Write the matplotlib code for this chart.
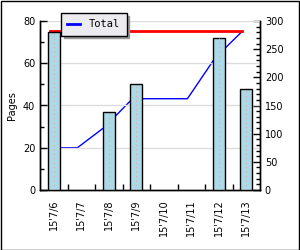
import matplotlib
matplotlib.use("Agg")
import matplotlib.pyplot as plt
from matplotlib.patches import Rectangle
from matplotlib.ticker import MultipleLocator, FixedLocator

# data
dates = ["15'7/6", "15'7/7", "15'7/8", "15'7/9", "15'7/10", "15'7/11", "15'7/12", "15'7/13"]
pages = [75, 0, 37, 50, 0, 0, 72, 48]
totals = [75, 75, 112, 162, 162, 162, 234, 282]
target = [282] * len(dates)

x = list(range(len(dates)))
xl = [i - 0.14 for i in x]   # line points sit a bit left of the bar centres

fig = plt.figure(figsize=(3, 2.5), dpi=100)
fig.patch.set_facecolor("white")
ax = fig.add_axes([40 / 300, 60 / 250, 220 / 300, 169 / 250])
ax2 = ax.twinx()

# bars on the left axis, drawn above the lines
ax.set_zorder(ax2.get_zorder() + 1)
ax.patch.set_visible(False)
edges = ["black" if v > 0 else "none" for v in pages]
ax.bar(x, pages, width=0.42, color="#add8e6", edgecolor=edges, linewidth=1, zorder=3)
ax.vlines(x, 0, pages, colors="#e8a8a8", linestyles=(0, (1, 3)), linewidth=0.8, zorder=4)

ax2.plot(xl, totals, color="blue", linewidth=1, label="Total")
ax2.plot(xl, target, color="red", linewidth=2)

ax.set_xlim(-0.5, 7.5)
ax.set_ylim(0, 80)
ax2.set_ylim(0, 300)

ax.yaxis.set_major_locator(MultipleLocator(20))
ax.yaxis.set_minor_locator(MultipleLocator(10))
ax2.yaxis.set_major_locator(MultipleLocator(50))
ax2.yaxis.set_minor_locator(MultipleLocator(10))
ax.grid(axis="y", color="#dddddd", linewidth=1, zorder=0)
ax.set_axisbelow(True)

ax.set_xticks(x)
ax.set_xticklabels(dates, rotation=90, fontsize=7)
ax.xaxis.set_minor_locator(FixedLocator([i + 0.5 for i in x[:-1]]))
ax.tick_params(axis="x", which="major", length=0, pad=7)
ax.tick_params(axis="x", which="minor", direction="in", length=4, width=1)
ax.tick_params(axis="y", which="major", direction="in", length=5, width=1, labelsize=7)
ax.tick_params(axis="y", which="minor", direction="in", length=3, width=1)
ax2.tick_params(axis="y", which="major", direction="in", length=5, width=1, labelsize=7)
ax2.tick_params(axis="y", which="minor", direction="in", length=3, width=1)

for a in (ax, ax2):
    a.spines["top"].set_visible(False)
    for s in ("left", "right", "bottom"):
        a.spines[s].set_linewidth(1)

ax.set_ylabel("Pages", fontsize=7, labelpad=4)

leg = fig.legend(loc="upper left", bbox_to_anchor=(61 / 300, 1 - 13 / 250),
                 prop={"family": "DejaVu Sans Mono", "size": 7.5},
                 fancybox=False, framealpha=1, edgecolor="black", facecolor="#ecebf0",
                 shadow={"color": "#999999", "alpha": 1}, handlelength=1.2,
                 handletextpad=0.9, borderpad=0.6, borderaxespad=0)
leg.get_frame().set_linewidth(1)
leg.legend_handles[0].set_linewidth(2)

fig.patches.append(Rectangle((0.002, 0.002), 0.994, 0.994, transform=fig.transFigure,
                             fill=False, edgecolor="black", linewidth=1))

fig.savefig("out.png", dpi=100)
